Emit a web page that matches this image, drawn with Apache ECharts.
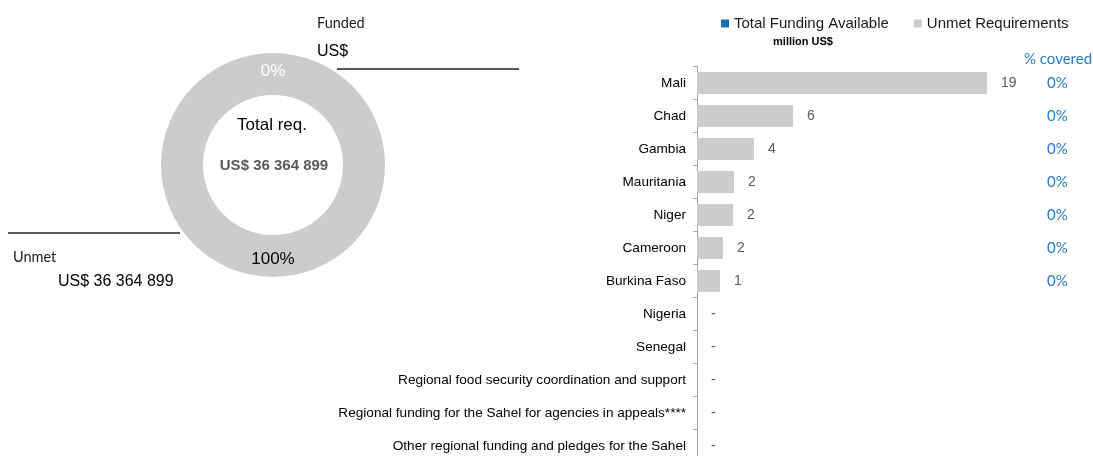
<!DOCTYPE html>
<html>
<head>
<meta charset="utf-8">
<script src="https://cdn.jsdelivr.net/npm/echarts@6/dist/echarts.min.js"></script>
<style>
html,body{margin:0;padding:0;background:#fff;}
#main{width:1093px;height:456px;}
</style>
</head>
<body>
<div id="main"></div>
<script>
// ---- data ----
const donutNames = ['Funded', 'Unmet'];
const donutValues = [0, 36364899];
const donutAmountLabels = ['US$', 'US$ 36 364 899'];
const totalReqLabel = 'Total req.';
const totalReqValue = 'US$ 36 364 899';

const categories = ['Mali', 'Chad', 'Gambia', 'Mauritania', 'Niger', 'Cameroon', 'Burkina Faso', 'Nigeria', 'Senegal',
  'Regional food security coordination and support',
  'Regional funding for the Sahel for agencies in appeals****',
  'Other regional funding and pledges for the Sahel'];
const fundingAvailable = [0, 0, 0, 0, 0, 0, 0, 0, 0, 0, 0, 0];
const unmetRequirements = [18.66, 6.18, 3.67, 2.38, 2.32, 1.67, 1.48, 0, 0, 0, 0, 0];
const pctCovered = ['0%', '0%', '0%', '0%', '0%', '0%', '0%', '', '', '', '', ''];
const seriesNames = ['Total Funding Available', 'Unmet Requirements'];
const unitLabel = 'million US$';
const pctHeader = '% covered';

const BLUE = '#1a6bb8';
const PCT_BLUE = '#2b7bc4';
const GREY = '#cccccc';
const ARIAL = 'Liberation Sans, Arial, sans-serif';
const CALIBRI = 'Lato, sans-serif';
const PX_PER_UNIT = 15.54;
const XMAX = 25;

const chart = echarts.init(document.getElementById('main'), null, {renderer: 'canvas'});

const option = {
  animation: false,
  backgroundColor: '#fff',
  legend: {
    left: 716, top: 11,
    itemWidth: 8, itemHeight: 8, itemGap: 25,
    icon: 'rect',
    data: seriesNames,
    textStyle: {fontFamily: ARIAL, fontSize: 15, color: '#1a1a1a'},
    selectedMode: false
  },
  grid: {left: 697, top: 66.5, width: XMAX * PX_PER_UNIT, height: 396, containLabel: false, outerBoundsMode: 'none'},
  xAxis: {type: 'value', min: 0, max: XMAX, show: false},
  yAxis: [{
    type: 'category', data: categories, inverse: true,
    axisLine: {lineStyle: {color: '#a6a6a6', width: 1}},
    axisTick: {show: true, length: 4, lineStyle: {color: '#a6a6a6'}},
    axisLabel: {fontFamily: ARIAL, fontSize: 13.6, color: '#000', margin: 11}
  }, {
    type: 'category', data: categories, inverse: true, position: 'right', offset: -(XMAX * PX_PER_UNIT - 350),
    axisLine: {show: false}, axisTick: {show: false},
    axisLabel: {
      margin: 0, fontFamily: CALIBRI, fontSize: 15, color: PCT_BLUE, align: 'left',
      formatter: (v, i) => pctCovered[i]
    }
  }],
  series: [{
    name: seriesNames[0], type: 'bar', stack: 'total', data: fundingAvailable,
    barWidth: 22, itemStyle: {color: BLUE}, silent: true
  }, {
    name: seriesNames[1], type: 'bar', stack: 'total', data: unmetRequirements,
    barWidth: 22, itemStyle: {color: GREY}, silent: true,
    label: {
      show: true, position: 'right', distance: 14,
      fontFamily: ARIAL, fontSize: 14, color: '#595959',
      formatter: p => p.value === 0 ? '-' : String(Math.round(p.value))
    }
  }, {
    name: 'donut', type: 'pie', center: [273, 165], radius: [70, 112],
    startAngle: 90, clockwise: true, silent: true, avoidLabelOverlap: false,
    itemStyle: {color: GREY},
    label: {show: true, position: 'inside', formatter: '{d}%', fontFamily: ARIAL, fontSize: 17},
    labelLine: {show: false},
    data: donutNames.map((n, i) => ({
      name: n, value: donutValues[i],
      label: {color: i === 0 ? '#ffffff' : '#000000'}
    }))
  }],
  graphic: [
    {type: 'text', x: 272, y: 125, style: {text: totalReqLabel, font: '17px ' + ARIAL, fill: '#000', align: 'center', verticalAlign: 'middle'}},
    {type: 'text', x: 274, y: 166, style: {text: totalReqValue, font: 'bold 15px ' + ARIAL, fill: '#595959', align: 'center', verticalAlign: 'middle'}},
    {type: 'text', x: 317, y: 23, style: {text: donutNames[0], font: '14.5px ' + CALIBRI, fill: '#1a1a1a', align: 'left', verticalAlign: 'middle'}},
    {type: 'text', x: 317, y: 52, style: {text: donutAmountLabels[0], font: '16px ' + ARIAL, fill: '#000', align: 'left', verticalAlign: 'middle'}},
    {type: 'line', shape: {x1: 337, y1: 69, x2: 519, y2: 69}, style: {stroke: '#595959', lineWidth: 2}},
    {type: 'line', shape: {x1: 8, y1: 233, x2: 180, y2: 233}, style: {stroke: '#595959', lineWidth: 2}},
    {type: 'text', x: 13, y: 257, style: {text: donutNames[1], font: '14.5px ' + CALIBRI, fill: '#1a1a1a', align: 'left', verticalAlign: 'middle'}},
    {type: 'text', x: 58, y: 282, style: {text: donutAmountLabels[1], font: '16px ' + ARIAL, fill: '#000', align: 'left', verticalAlign: 'middle'}},
    {type: 'text', x: 803, y: 42, style: {text: unitLabel, font: 'bold 11px ' + ARIAL, fill: '#000', align: 'center', verticalAlign: 'middle'}},
    {type: 'text', x: 1058, y: 59, style: {text: pctHeader, font: '15px ' + CALIBRI, fill: PCT_BLUE, align: 'center', verticalAlign: 'middle'}}
  ]
};
chart.setOption(option);
</script>
</body>
</html>
